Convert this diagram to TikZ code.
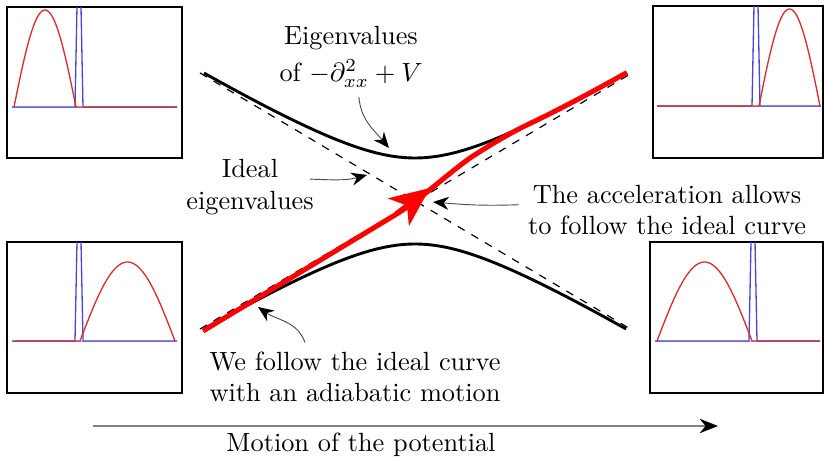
\documentclass[tikz,border=0pt]{standalone}
\usepackage{amsmath}
\usepackage{amssymb}
\usepackage{xcolor}
\usepackage{tikz}
\usetikzlibrary{
	arrows.meta,
	positioning
}
\definecolor{WaveRed}{RGB}{215,45,45}
\definecolor{WellBlue}{RGB}{70,70,215}

\begin{document}
\begin{tikzpicture}[x=0.38pt, y=0.38pt,
		frame/.style={line width=0.8pt},
		axis/.style={gray!60, line width=0.3pt},
		wave/.style={WaveRed, line width=0.5pt},
		well/.style={WellBlue, line width=0.5pt},
		note/.style={gray!60!black, line width=0.35pt, -{Stealth[length=6pt,width=5pt,black]}},
		level/.style={line width=1.1pt},
		idealline/.style={dashed, line width=0.45pt},
		follow/.style={red, line width=1.9pt}]
			\useasboundingbox (0,0) rectangle (826,458);
			% insets: potential (blue) and ground state (red)
			\draw[frame] (7,300) rectangle (182,451);
			\draw[axis] (12,351) -- (177,351);
			\draw[well] (12,351) -- (75,351) -- (77,451) (81,451) -- (83,351) -- (177,351);
			\draw[wave] plot[domain=0:180, samples=40] ({14+\x/180*62},{351+97*sin(\x)}) -- (177,351);
			\draw[frame] (653,300) rectangle (823,452);
			\draw[axis] (657,352) -- (821,352);
			\draw[well] (657,352) -- (752,352) -- (754,452) (758,452) -- (760,352) -- (821,352);
			\draw[wave] (657,352) -- (759,352) -- plot[domain=0:180, samples=40] ({759+\x/180*61},{352+97*sin(\x)});
			\draw[frame] (7,65) rectangle (182,216);
			\draw[axis] (12,117) -- (177,117);
			\draw[well] (12,117) -- (75,117) -- (77,216) (81,216) -- (83,117) -- (177,117);
			\draw[wave] (14,117) -- (80,117) -- plot[domain=0:180, samples=40] ({80+\x/180*95},{117+79*sin(\x)});
			\draw[frame] (650,65) rectangle (823,216);
			\draw[axis] (655,117) -- (820,117);
			\draw[well] (655,117) -- (749,117) -- (751,216) (755,216) -- (757,117) -- (820,117);
			\draw[wave] plot[domain=0:180, samples=40] ({657+\x/180*95},{117+79*sin(\x)}) -- (820,117);
			% eigenvalues
			\draw[idealline] (200,385) -- (632,128);
			\draw[idealline] (200,129) -- (632,385);
			\draw[level] plot[domain=-211:211, samples=80] ({415+\x},{257+10*sqrt((0.0595*\x)^2+18.49*exp(-(\x/200)^2))});
			\draw[level] plot[domain=-211:211, samples=80] ({415+\x},{257-10*sqrt((0.0595*\x)^2+18.49*exp(-(\x/200)^2))});
			\draw[follow] (203,127) -- (395,243) .. controls (420,258) and (445,282) .. (470,300)
				.. controls (490,313) and (510,325) .. (529,334)
				-- plot[domain=114:212, samples=30] ({415+\x},{257+10*sqrt((0.0595*\x)^2+18.49*exp(-(\x/200)^2))});
			\coordinate (A1) at (396,244);
			\coordinate (A2) at (430,270);
			\draw[follow, -{Stealth[length=15pt, width=13pt, inset=4pt]}] (A1) -- (A2);
			% labels
			\node[align=center] (eig) at (351,401) {Eigenvalues\\[2pt] of $-\partial^2_{xx}+V$};
			\node[align=center] (ideal) at (250,271) {Ideal\\ eigenvalues};
			\node[align=center] (accel) at (667,248) {The acceleration allows\\ to follow the ideal curve};
			\node[align=center] (adiab) at (355,81) {We follow the ideal curve\\ with an adiabatic motion};
			\node (motion) at (361,13) {Motion of the potential};
			\coordinate (T1) at (389,310);
			\coordinate (T2) at (367,283);
			\coordinate (T3) at (433,256);
			\coordinate (T4) at (258,151);
			\coordinate (M1) at (93,32);
			\coordinate (M2) at (718,32);
			\draw[note] ([xshift=3pt]eig.south) to[out=-85, in=130] (T1);
			\draw[note] ([xshift=-5pt, yshift=3pt]ideal.east) to[out=-2, in=195] (T2);
			\draw[note] ([yshift=2pt]accel.west) to[out=182, in=-5] (T3);
			\draw[note] ([xshift=-19pt]adiab.north) to[out=110, in=-35] (T4);
			\draw[gray, line width=0.4pt, -{Stealth[length=7pt, width=5.5pt, black]}] (M1) -- (M2);
		\end{tikzpicture}
\end{document}
